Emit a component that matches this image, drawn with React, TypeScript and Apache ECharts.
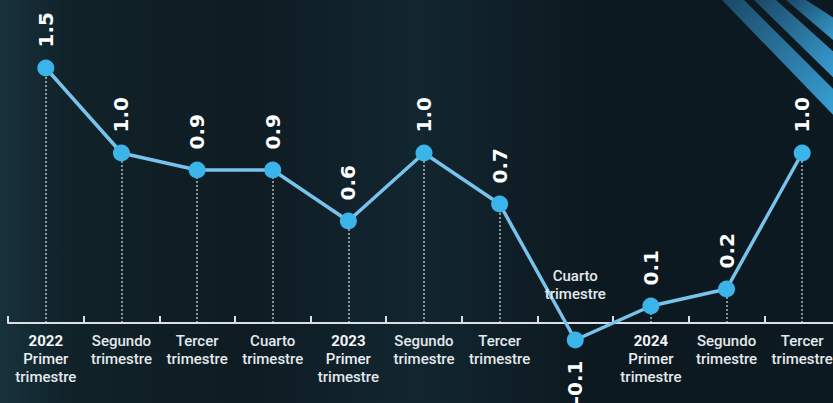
import React, { useEffect, useRef } from "react";
import * as echarts from "echarts";

const years = ["2022", "", "", "", "2023", "", "", "", "2024", "", ""];
const quarters = [
  "Primer\ntrimestre",
  "Segundo\ntrimestre",
  "Tercer\ntrimestre",
  "Cuarto\ntrimestre",
  "Primer\ntrimestre",
  "Segundo\ntrimestre",
  "Tercer\ntrimestre",
  "Cuarto\ntrimestre",
  "Primer\ntrimestre",
  "Segundo\ntrimestre",
  "Tercer\ntrimestre",
];
const values = [1.5, 1.0, 0.9, 0.9, 0.6, 1.0, 0.7, -0.1, 0.1, 0.2, 1.0];

const categories = quarters.map((q, i) => (years[i] ? years[i] + "\n" + q : q));

const FONT = "Roboto, 'DejaVu Sans', sans-serif";

export default function App() {
  const ref = useRef<HTMLDivElement>(null);
  useEffect(() => {
    if (!ref.current) return;
    const chart = echarts.init(ref.current, null, { renderer: "svg" });

    const stripe = (x0: number, y1: number, w: number) => ({
      type: "polygon",
      silent: true,
      z: 0,
      shape: {
        points: [
          [x0, 0],
          [x0 + w, 0],
          [840, y1 - w * 1.2],
          [840, y1],
        ],
      },
      style: {
        fill: new echarts.graphic.LinearGradient(0, 0, 1, 1, [
          { offset: 0, color: "#1b4866" },
          { offset: 1, color: "#3aa6dc" },
        ]),
      },
    });

    const option: any = {
      animation: false,
      backgroundColor: new echarts.graphic.LinearGradient(0, 0, 1, 0, [
        { offset: 0, color: "#17323c" },
        { offset: 0.08, color: "#112229" },
        { offset: 0.3, color: "#0e1b23" },
        { offset: 0.5, color: "#122630" },
        { offset: 0.7, color: "#0d1920" },
        { offset: 1, color: "#0d1920" },
      ]),
      grid: { left: 8, right: -7, top: 17, bottom: 80, containLabel: false, outerBoundsMode: "none" },
      xAxis: {
        type: "category",
        data: categories,
        boundaryGap: true,
        axisLine: { onZero: false, lineStyle: { color: "#d9dfe3", width: 2 } },
        axisTick: { show: true, inside: true, length: 7, lineStyle: { color: "#d9dfe3", width: 2 } },
        axisLabel: {
          margin: 9,
          interval: 0,
          color: "#e9eef1",
          fontFamily: FONT,
          fontSize: 15,
          lineHeight: 18,
          formatter: (val: string, idx: number) => {
            if (values[idx] < 0) return "";
            const parts = val.split("\n");
            if (years[idx]) {
              return "{y|" + parts[0] + "}\n{p|" + parts[1] + "}\n{t|" + parts[2] + "}";
            }
            return "{t|" + parts.join("}\n{t|") + "}";
          },
          rich: {
            y: { fontFamily: FONT, fontSize: 15, fontWeight: "bold", color: "#f2f5f7", lineHeight: 18 },
            p: { fontFamily: FONT, fontSize: 15, fontWeight: 500, color: "#e9eef1", lineHeight: 18 },
            t: { fontFamily: FONT, fontSize: 15, fontWeight: 500, color: "#e3e9ec", lineHeight: 18 },
          },
        },
        splitLine: { show: false },
      },
      yAxis: {
        type: "value",
        min: 0,
        max: 1.8,
        show: false,
        splitLine: { show: false },
      },
      series: [
        {
          type: "line",
          clip: false,
          data: values.map((v) => ({
            value: v,
            label:
              v < 0
                ? { position: "bottom", align: "right" }
                : { position: "top", align: "left" },
          })),
          z: 5,
          lineStyle: { color: "#78c3ec", width: 3.5 },
          symbol: "circle",
          symbolSize: 17,
          itemStyle: { color: "#3bb4ea" },
          label: {
            show: true,
            rotate: 90,
            distance: 12,
            verticalAlign: "middle",
            color: "#ffffff",
            fontFamily: "'DejaVu Sans', sans-serif",
            fontWeight: "bold",
            fontSize: 20,
            formatter: (p: any) => Number(p.value).toFixed(1),
          },
          markLine: {
            silent: true,
            symbol: "none",
            label: { show: false },
            lineStyle: { color: "rgba(230,236,240,0.75)", type: [2, 2], width: 1.5 },
            z: 1,
            data: values.map((v, i) => [
              { coord: [i, 0] },
              { coord: [i, v] },
            ]),
          },
        },
      ],
    };
    chart.setOption(option);

    const idx = values.findIndex((v) => v < 0);
    const graphics: any[] = [stripe(722, 122, 22), stripe(754, 84, 22), stripe(786, 46, 20)];
    if (idx >= 0) {
      const pt = chart.convertToPixel({ seriesIndex: 0 }, [idx, 0]) as number[];
      graphics.push({
        type: "text",
        x: pt[0],
        y: pt[1] - 20,
        z: 10,
        style: {
          text: quarters[idx],
          fill: "#e3e9ec",
          font: "500 15px " + FONT,
          lineHeight: 18,
          align: "center",
          verticalAlign: "bottom",
        },
      });
    }
    chart.setOption({ graphic: graphics });

    return () => chart.dispose();
  }, []);
  return (
    <div
      ref={ref}
      style={{ position: "fixed", left: 0, top: 0, width: 833, height: 403 }}
    />
  );
}
